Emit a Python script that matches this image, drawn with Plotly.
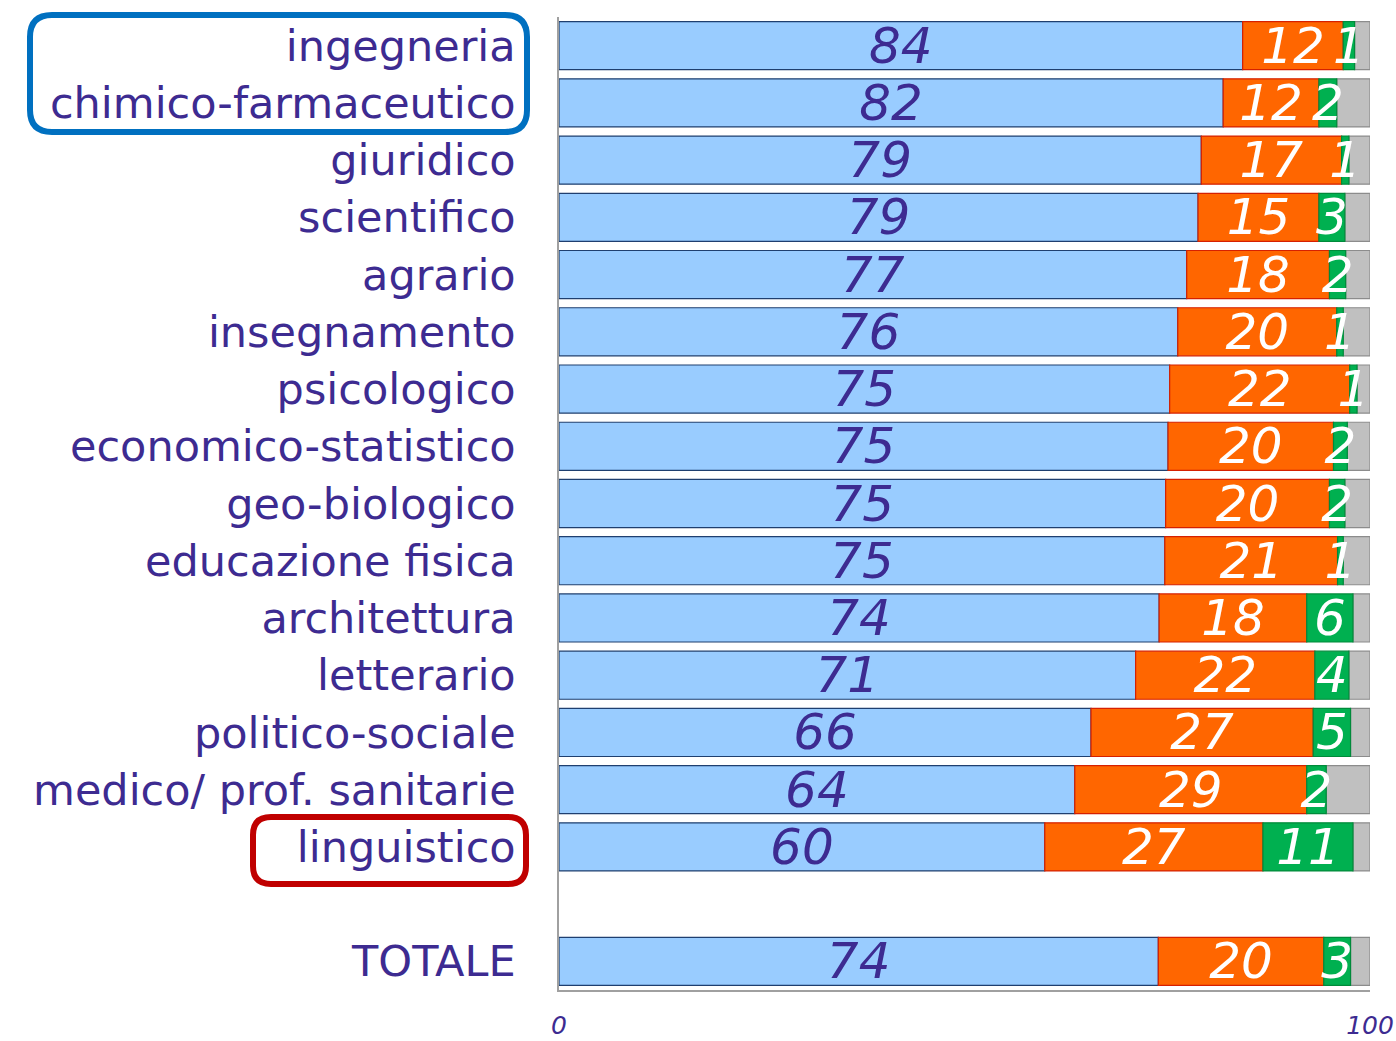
import plotly.graph_objects as go

categories = ["ingegneria", "chimico-farmaceutico", "giuridico", "scientifico", "agrario",
              "insegnamento", "psicologico", "economico-statistico", "geo-biologico",
              "educazione fisica", "architettura", "letterario", "politico-sociale",
              "medico/ prof. sanitarie", "linguistico", "TOTALE"]
blue_vals = [84.3, 81.9, 79.2, 78.8, 77.4, 76.3, 75.3, 75.1, 74.8, 74.7, 74.0, 71.1, 65.6, 63.6, 59.9, 73.9]
orange_vals = [12.4, 11.8, 17.3, 14.9, 17.6, 19.6, 22.2, 20.4, 20.2, 21.3, 18.2, 22.1, 27.4, 28.6, 26.9, 20.4]
green_vals = [1.4, 2.2, 0.9, 3.2, 2.0, 0.8, 0.9, 1.7, 1.9, 0.7, 5.7, 4.2, 4.6, 2.4, 11.1, 3.3]
gray_vals = [1.9, 4.1, 2.6, 3.1, 3.0, 3.3, 1.6, 2.8, 3.1, 3.3, 2.1, 2.6, 2.4, 5.4, 2.1, 2.4]
x_tickvals = [0, 100]
x_ticktext = ["0", "100"]

SPACER = " "
cat_order = categories[:-1] + [SPACER] + categories[-1:]

TEXT_COL = "#3d2b91"
FONT = "DejaVu Sans"
LBL_SIZE = 50

# stacking bases (segments are placed end to end)
base_blue = [0] * len(blue_vals)
base_orange = list(blue_vals)
base_green = [b + o for b, o in zip(blue_vals, orange_vals)]
base_gray = [b + o + g for b, o, g in zip(blue_vals, orange_vals, green_vals)]

fig = go.Figure()
# draw order: grey first so that the green labels can overflow on top of it
series = [
    (gray_vals, base_gray, "#c0c0c0", "#8c8c8c", "white", False),
    (blue_vals, base_blue, "#99ccff", "#1f3f6f", TEXT_COL, True),
    (orange_vals, base_orange, "#ff6600", "#d62000", "white", True),
    (green_vals, base_green, "#00b050", "#008a3a", "white", True),
]
for vals, base, fill, line, tcol, show_text in series:
    fig.add_trace(go.Bar(
        y=categories, x=vals, base=base, orientation="h",
        marker=dict(color=fill, line=dict(color=line, width=1.2)),
        width=0.84,
        text=vals if show_text else None,
        texttemplate="%{x:.0f}" if show_text else None,
        textposition="inside" if show_text else "none",
        insidetextanchor="middle",
        textangle=0,
        constraintext="none",
        textfont=dict(family=FONT, size=LBL_SIZE, color=tcol, style="italic"),
        cliponaxis=False,
        hoverinfo="skip",
        showlegend=False,
    ))

W, H = 1396, 1041
L, R, T, B = 559, 26, 17, 51
pw = W - L - R
ph = H - T - B

fig.update_layout(
    barmode="overlay",
    width=W, height=H,
    margin=dict(l=L, r=R, t=T, b=B, autoexpand=False),
    paper_bgcolor="white", plot_bgcolor="white",
    xaxis=dict(range=[0, 100], tickvals=x_tickvals, ticktext=x_ticktext,
               showgrid=False, zeroline=False, showline=True, linecolor="#a0a0a0",
               linewidth=1.5, ticks="", ticklabelstandoff=12, automargin=False,
               ticklabeloverflow="allow",
               tickfont=dict(family=FONT, size=25, color=TEXT_COL, style="italic")),
    yaxis=dict(categoryorder="array", categoryarray=cat_order, range=[16.5, -0.5],
               showgrid=False, zeroline=False, showline=True, automargin=False,
               linecolor="#a0a0a0", linewidth=1.5, ticks="", ticklabelstandoff=33,
               tickfont=dict(family=FONT, size=43, color=TEXT_COL)),
)


def rounded_path(x0, x1, y0, y1, r):
    # pixel coords -> paper coords
    def px(x):
        return (x - L) / pw

    def py(y):
        return (H - B - y) / ph
    rx = r / pw
    ry = r / ph
    X0, X1, Y0, Y1 = px(x0), px(x1), py(y0), py(y1)
    return (f"M {X0+rx},{Y0} L {X1-rx},{Y0} Q {X1},{Y0} {X1},{Y0-ry} "
            f"L {X1},{Y1+ry} Q {X1},{Y1} {X1-rx},{Y1} "
            f"L {X0+rx},{Y1} Q {X0},{Y1} {X0},{Y1+ry} "
            f"L {X0},{Y0-ry} Q {X0},{Y0} {X0+rx},{Y0} Z")


fig.add_shape(type="path", xref="paper", yref="paper",
              path=rounded_path(30, 527, 15, 132, 22),
              line=dict(color="#0070c0", width=6))
fig.add_shape(type="path", xref="paper", yref="paper",
              path=rounded_path(253, 526, 817, 884, 18),
              line=dict(color="#c00000", width=6))

# remove the default 8px page margin so the figure fills the window exactly
fig.write_html("out.html",
               config={"displayModeBar": False},
               post_script="document.body.style.margin='0';document.body.style.overflow='hidden';")
